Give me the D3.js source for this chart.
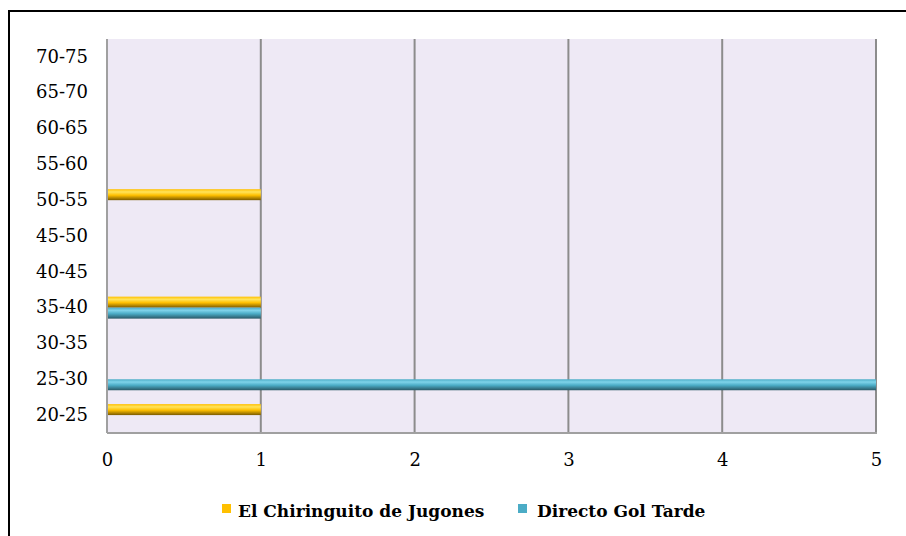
<!DOCTYPE html>
<html>
<head>
<meta charset="utf-8">
<script src="https://cdn.jsdelivr.net/npm/d3@7"></script>
<style>
  html, body { margin: 0; padding: 0; background: #fff; }
  svg { display: block; }
</style>
</head>
<body>
<svg id="chart" width="906" height="536"></svg>
<script>
// Age ranges shown on the vertical axis (bottom to top)
const categories = ["20-25", "25-30", "30-35", "35-40", "40-45", "45-50", "50-55", "55-60", "60-65", "65-70", "70-75"];
const seriesNames = ["El Chiringuito de Jugones", "Directo Gol Tarde"];
const chiringuito = [1, 0, 0, 1, 0, 0, 1, 0, 0, 0, 0];
const directoGol = [0, 5, 0, 1, 0, 0, 0, 0, 0, 0, 0];
const xTicks = [0, 1, 2, 3, 4, 5];

const seriesValues = [chiringuito, directoGol];
const seriesColors = [
  { light: "#FFE45C", mid: "#FFC000", dark: "#7A5A00" },
  { light: "#7FD3EA", mid: "#4BACC6", dark: "#2A5866" }
];

const svg = d3.select("#chart");
const font = "'DejaVu Serif', 'Liberation Serif', serif";

// Outer frame (top and left edges visible)
svg.append("line").attr("x1", 9).attr("x2", 906).attr("y1", 11).attr("y2", 11)
  .attr("stroke", "#000").attr("stroke-width", 2);
svg.append("line").attr("x1", 9).attr("x2", 9).attr("y1", 10).attr("y2", 536)
  .attr("stroke", "#000").attr("stroke-width", 2);

const plot = { left: 107, right: 876, top: 39, bottom: 433 };

const x = d3.scaleLinear().domain([0, 5]).range([plot.left, plot.right]);
const y = d3.scaleBand().domain(categories.slice().reverse()).range([plot.top, plot.bottom]);
const ySub = d3.scaleBand().domain(seriesNames).range([0, y.bandwidth()]).paddingOuter(0.63);

// Gradients for the glossy bars
const defs = svg.append("defs");
seriesColors.forEach((c, i) => {
  const g = defs.append("linearGradient").attr("id", "grad" + i)
    .attr("x1", 0).attr("x2", 0).attr("y1", 0).attr("y2", 1);
  g.append("stop").attr("offset", "0%").attr("stop-color", c.mid);
  g.append("stop").attr("offset", "25%").attr("stop-color", c.light);
  g.append("stop").attr("offset", "55%").attr("stop-color", c.mid);
  g.append("stop").attr("offset", "100%").attr("stop-color", c.dark);
});

// Plot background
svg.append("rect").attr("x", plot.left).attr("y", plot.top)
  .attr("width", plot.right - plot.left).attr("height", plot.bottom - plot.top)
  .attr("fill", "#EEE9F5");

// Vertical gridlines
svg.append("g").selectAll("line").data(xTicks.slice(1)).join("line")
  .attr("x1", d => x(d)).attr("x2", d => x(d))
  .attr("y1", plot.top).attr("y2", plot.bottom)
  .attr("stroke", "#8C8C8C").attr("stroke-width", 2);

// Bars
seriesNames.forEach((name, si) => {
  svg.append("g").selectAll("rect")
    .data(categories.map((c, i) => ({ c, v: seriesValues[si][i] })).filter(d => d.v > 0))
    .join("rect")
    .attr("x", x(0))
    .attr("y", d => y(d.c) + ySub(name))
    .attr("width", d => x(d.v) - x(0))
    .attr("height", ySub.bandwidth())
    .attr("fill", "url(#grad" + si + ")");
});

// Axis lines
svg.append("line").attr("x1", plot.left).attr("x2", plot.right + 1)
  .attr("y1", plot.bottom).attr("y2", plot.bottom)
  .attr("stroke", "#A0A0A0").attr("stroke-width", 2);
svg.append("line").attr("x1", plot.left).attr("x2", plot.left)
  .attr("y1", plot.top).attr("y2", plot.bottom)
  .attr("stroke", "#A0A0A0").attr("stroke-width", 2);

// X axis tick labels
const xAxis = d3.axisBottom(x).tickValues(xTicks).tickSize(0).tickPadding(0).tickFormat(d3.format("d"));
const gx = svg.append("g").attr("transform", `translate(0,${plot.bottom + 20})`).call(xAxis);
gx.select(".domain").remove();
gx.selectAll("text").attr("font-family", font).attr("font-size", 18).attr("fill", "#000")
  .attr("dy", "0.71em");

// Y axis tick labels
const yAxis = d3.axisLeft(y).tickSize(0).tickPadding(19);
const gy = svg.append("g").attr("transform", `translate(${plot.left},0)`).call(yAxis);
gy.select(".domain").remove();
gy.selectAll("text").attr("font-family", font).attr("font-size", 18).attr("fill", "#000");

// Legend
const legendItems = [
  { name: seriesNames[0], color: seriesColors[0].mid, x: 222, gap: 16 },
  { name: seriesNames[1], color: seriesColors[1].mid, x: 518, gap: 19 }
];
const lg = svg.append("g");
legendItems.forEach(it => {
  lg.append("rect").attr("x", it.x).attr("y", 504).attr("width", 9).attr("height", 9).attr("fill", it.color);
  lg.append("text").attr("x", it.x + it.gap).attr("y", 517)
    .attr("font-family", font).attr("font-weight", "bold").attr("font-size", 17)
    .attr("fill", "#000").text(it.name);
});
</script>
</body>
</html>
